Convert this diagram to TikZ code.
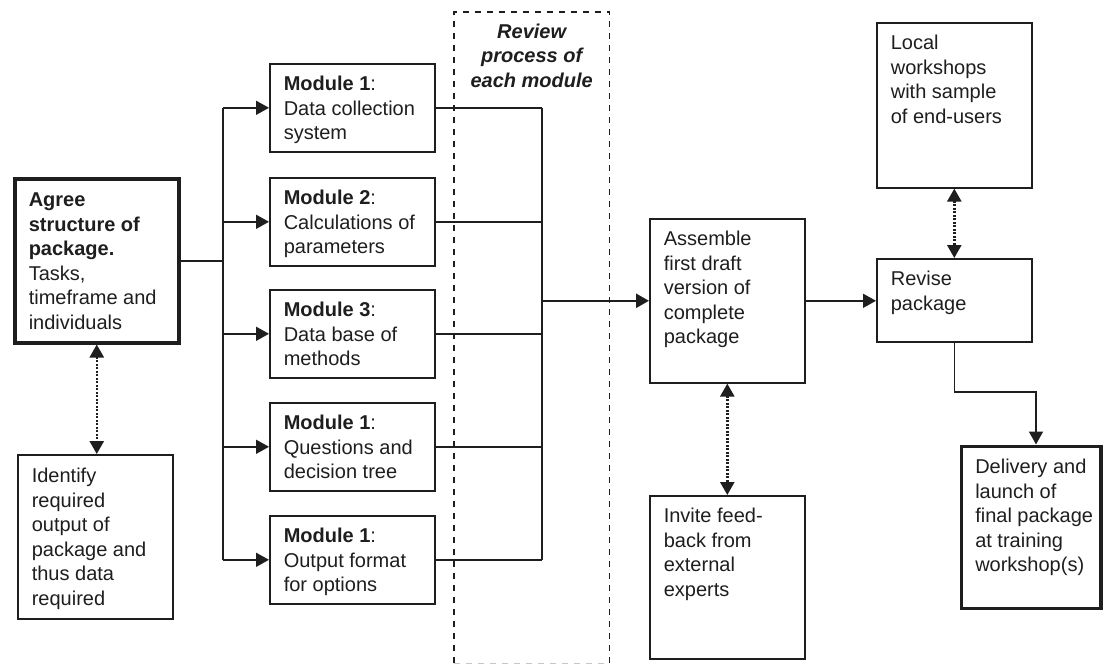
\documentclass[tikz,border=0pt]{standalone}
\usepackage{fontspec}
\setmainfont{Liberation Sans}
\usetikzlibrary{arrows.meta}
\definecolor{ink}{HTML}{1E1E1E}
\newcommand{\bxt}[4]{\parbox[c][#2][t]{#1}{\fontsize{20}{24.5}\selectfont\raggedright\leftskip=14pt\relax\vspace*{#3}\strut #4}}
\begin{document}
\begin{tikzpicture}[x=1pt,y=-1pt,
  font=\fontsize{20}{24.5}\selectfont,
  box/.style={draw=ink, line width=1.6pt, inner sep=0pt, anchor=north west, text=ink},
  thickbox/.style={box, line width=3.5pt},
  arr/.style={-{Triangle[length=13pt,width=14pt]}, draw=ink, line width=1.6pt},
  dotarr/.style={{Triangle[length=13pt,width=14pt]}-{Triangle[length=13pt,width=14pt]}, draw=ink, line width=2.5pt, dash pattern=on 2pt off 1.5pt},
  ln/.style={draw=ink, line width=1.6pt},
  revbox/.style={inner sep=0pt, anchor=north west, text=ink}]
\useasboundingbox (0,0) rectangle (1103,666);

% review region
\node[revbox] (rev) at (454,12) {\parbox[c][651pt][t]{155pt}{\fontsize{20}{24.5}\selectfont\centering\bfseries\itshape\vspace*{8.85pt}\strut Review\\process of\\each module}};
\draw[ink, line width=1.5pt, dash pattern=on 6pt off 6pt] (rev.south west) -- (rev.north west) -- (rev.north east) -- (rev.south east);
\draw[gray!45, line width=1pt, dash pattern=on 6pt off 6pt] (rev.south west) -- (rev.south east);

% left boxes
\node[thickbox] (ag) at (13,177) {\bxt{164pt}{164pt}{10.85pt}{\textbf{Agree}\\ \textbf{structure of}\\ \textbf{package.}\\ Tasks,\\ timeframe and\\ individuals}};
\node[box] (id) at (17,454) {\bxt{155pt}{164pt}{10.85pt}{Identify\\ required\\ output of\\ package and\\ thus data\\ required}};

% modules
\node[box] (m1) at (269,63) {\bxt{165pt}{88pt}{9.85pt}{\textbf{Module 1}:\\ Data collection\\ system}};
\node[box] (m2) at (269,177) {\bxt{165pt}{88pt}{9.85pt}{\textbf{Module 2}:\\ Calculations of\\ parameters}};
\node[box] (m3) at (269,289) {\bxt{165pt}{88pt}{9.85pt}{\textbf{Module 3}:\\ Data base of\\ methods}};
\node[box] (m4) at (269,402) {\bxt{165pt}{88pt}{9.85pt}{\textbf{Module 1}:\\ Questions and\\ decision tree}};
\node[box] (m5) at (269,515) {\bxt{165pt}{88pt}{9.85pt}{\textbf{Module 1}:\\ Output format\\ for options}};

% middle boxes
\node[box] (as) at (649,218) {\bxt{155pt}{164pt}{9.85pt}{Assemble\\ first draft\\ version of\\ complete\\ package}};
\node[box] (inv) at (649,495) {\bxt{155pt}{163pt}{9.85pt}{Invite feed-\\ back from\\ external\\ experts}};

% right boxes
\node[box] (loc) at (876,22) {\bxt{155pt}{165pt}{9.85pt}{Local\\ workshops\\ with sample\\ of end-users}};
\node[box] (revi) at (876,258) {\bxt{155pt}{83pt}{9.85pt}{Revise\\ package}};
\node[thickbox] (del) at (959.5,444.5) {\bxt{139.5pt}{162pt}{10.35pt}{Delivery and\\ launch of\\ final package\\ at training\\ workshop(s)}};

% connectors
\coordinate (busx) at (223,0);
\coordinate (colx) at (542,0);
\draw[ln, line width=2.2pt] (ag.east) -- (ag.east -| busx);
\draw[ln, line width=2pt] (busx |- m1.west) -- (busx |- m5.west);
\foreach \m in {m1,m2,m3,m4,m5} {
  \draw[arr] (busx |- \m.west) -- (\m.west);
  \draw[ln] (\m.east) -- (colx |- \m.east);
}
\draw[ln] (colx |- m1.east) -- (colx |- m5.east);
\draw[arr, line width=2.5pt] (colx |- as.west) -- (as.west);
\draw[arr] (as.east) -- (as.east -| revi.west);
\draw[dotarr] (ag.south) -- (ag.south |- id.north);
\draw[dotarr] (as.south) -- (inv.north);
\draw[dotarr] (loc.south) -- (revi.north);
\coordinate (jn) at (1036,392);
\draw[arr] (revi.south) -- (revi.south |- jn) -- (jn) -- (jn |- del.north);
\end{tikzpicture}
\end{document}
